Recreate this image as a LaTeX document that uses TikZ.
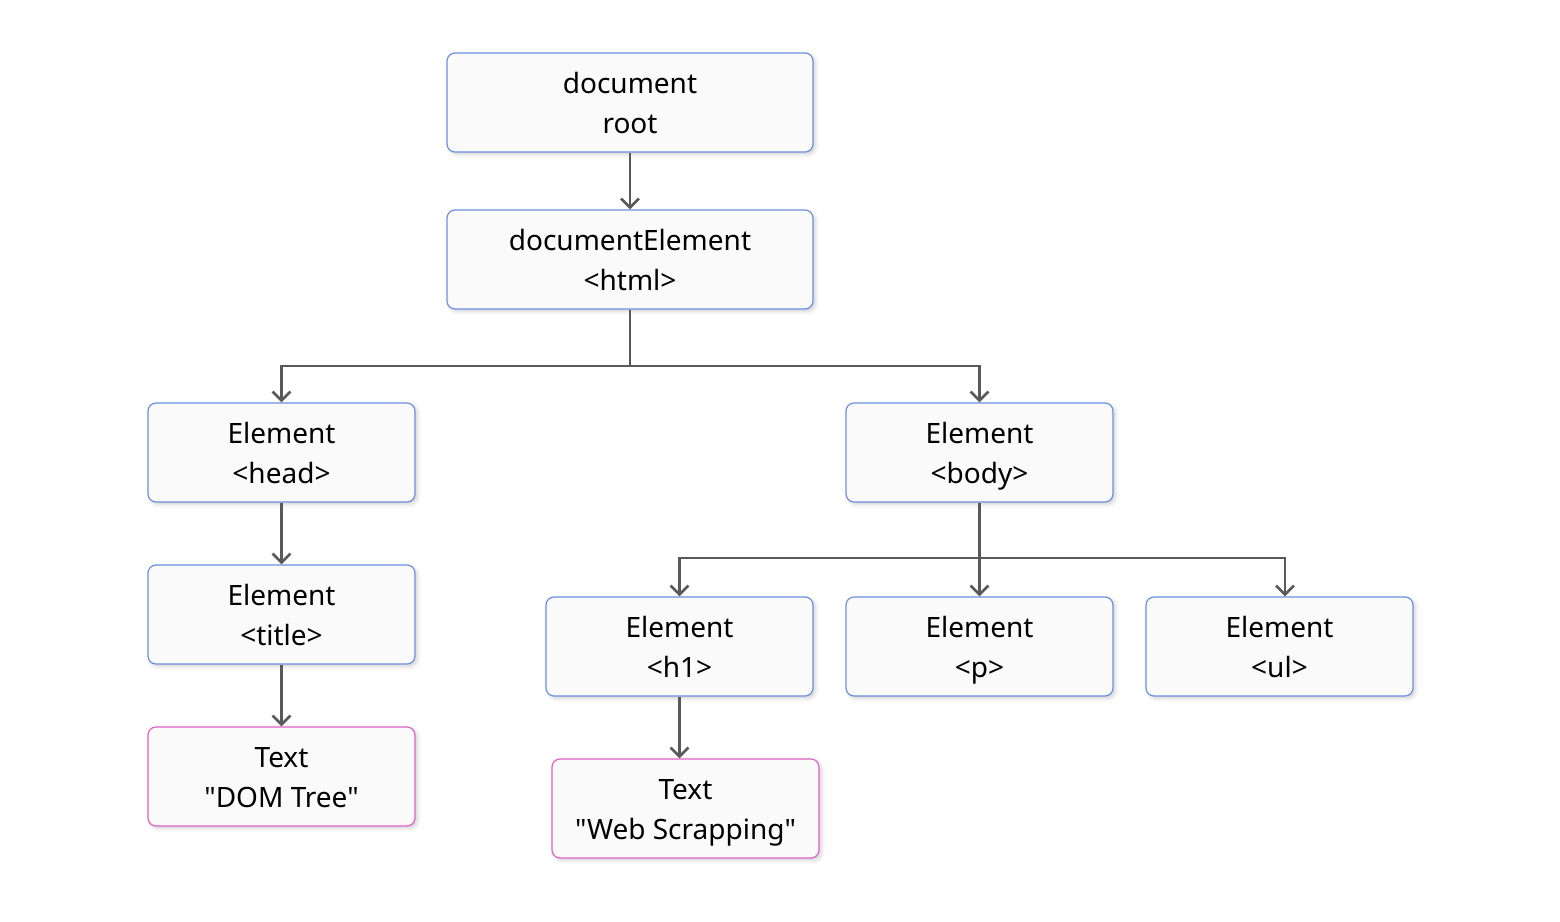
\documentclass[tikz,border=0pt]{standalone}
\usepackage{fontspec}
\setmainfont{Noto Sans}[Ligatures=TeXOff]
\usetikzlibrary{arrows.meta,calc,shadows.blur}
\definecolor{bluebd}{HTML}{6A90E2}
\definecolor{pinkbd}{HTML}{E060C8}
\definecolor{boxfill}{HTML}{FAFAFA}
\definecolor{linegray}{HTML}{595959}
\newcommand{\twolines}[2]{\rule{0pt}{17pt}#1\\\strut #2}
\tikzset{
  box/.style={draw=bluebd, line width=0.6pt, fill=boxfill, rounded corners=4pt,
    minimum height=49.5pt, inner sep=0pt, align=center,
    font=\fontsize{14pt}{20pt}\selectfont,
    blur shadow={shadow xshift=1.2pt, shadow yshift=-1.2pt, shadow blur radius=2pt, shadow opacity=18}},
  wide/.style={box, minimum width=183pt},
  narrow/.style={box, minimum width=133.5pt},
  textbox/.style={narrow, draw=pinkbd},
  conn/.style={draw=linegray, line width=1.3pt},
  arr/.style={conn, -{Straight Barb[length=4.5pt,width=9pt,line width=1.3pt]}}
}
\begin{document}
\begin{tikzpicture}[x=0.5pt,y=-0.5pt]
\useasboundingbox (0,0) rectangle (1560,922);
\node[wide] (root) at (630,102.5) {\twolines{document}{root}};
\node[wide] (html) at (630,259.5) {\twolines{documentElement}{<html>}};
\node[narrow] (head) at (281.5,452.5) {\twolines{Element}{<head>}};
\node[narrow] (body) at (979.5,452.5) {\twolines{Element}{<body>}};
\node[narrow] (title) at (281.5,614.5) {\twolines{Element}{<title>}};
\node[textbox] (dom) at (281.5,776.5) {\twolines{Text}{"DOM Tree"}};
\node[narrow] (h1) at (679.5,646.5) {\twolines{Element}{<h1>}};
\node[narrow] (p) at (979.5,646.5) {\twolines{Element}{<p>}};
\node[narrow] (ul) at (1279.5,646.5) {\twolines{Element}{<ul>}};
\node[textbox] (web) at (685.5,808.5) {\twolines{Text}{"Web Scrapping"}};
\coordinate (j1) at (630,366);
\coordinate (j2) at (979.5,558);
\draw[arr] (root) -- (html);
\draw[conn] (html.south) -- (j1);
\draw[arr] (j1) -| (head.north);
\draw[arr] (j1) -| (body.north);
\draw[arr] (head) -- (title);
\draw[arr] (title) -- (dom);
\draw[conn] (body.south) -- (j2);
\draw[arr] (j2) -| (h1.north);
\draw[arr] (j2) -- (p.north);
\draw[arr] (j2) -| ($(ul.north)+(5.5,0)$);
\draw[arr] (h1.south) -- (h1.south |- web.north);
\end{tikzpicture}
\end{document}
